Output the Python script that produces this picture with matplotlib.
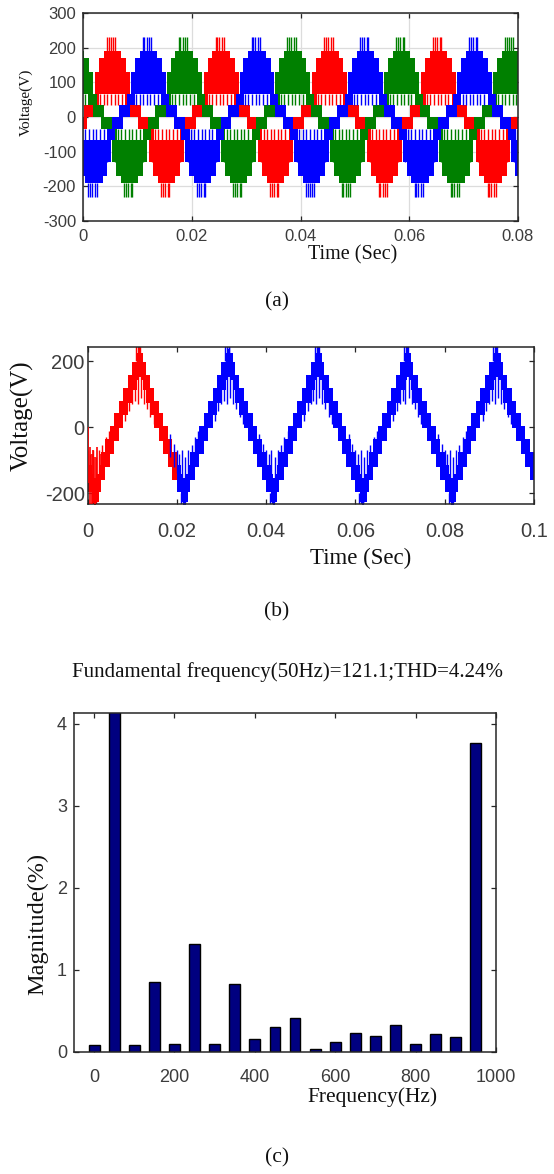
import matplotlib
matplotlib.use("Agg")
import matplotlib.pyplot as plt

plt.rcParams['axes.unicode_minus'] = False

# ---------------- data ----------------
# (a) three phase 7-level output, one positive half cycle described around its peak
#     tau in ms measured from the peak, bands are symmetric in tau: (|tau| min, |tau| max, v low, v high)
phase_colors_a = ['red', 'green', 'blue']
phase_peaks_ms = [5.4, 18.6, 12.0]
period_ms = 20.0
bands_a = [(3.3, 5.3, 0, 34),
           (2.4, 3.9, 34, 67),
           (0.0, 3.2, 67, 130),
           (0.0, 2.5, 130, 170),
           (0.0, 1.6, 170, 190)]
spikes_a = [(-1.0, 190, 232), (-0.7, 190, 232), (-0.3, 190, 232), (0.2, 190, 232), (0.5, 190, 232)]
dips_a = [(-2.2, 67, 34), (-1.6, 67, 34), (-0.9, 67, 34), (-0.2, 67, 34),
          (0.4, 67, 34), (1.1, 67, 34), (1.8, 67, 34), (-2.7, 130, 100), (2.5, 130, 100)]

# (b) single phase multilevel output, staircase level every 0.5 ms over one period
step_ms_b = 0.5
centres_b = [-156, -156, -185, -195, -185, -156, -117, -117, -78, -78, -39, -39, 0, 0,
             39, 39, 78, 78, 117, 117, 156, 156, 185, 195, 185, 156, 117, 117, 78, 78,
             39, 39, 0, 0, -39, -39, -78, -78, -117, -117]
band_half_b = 42
peak_b_ms = 11.5
spikes_b = [(-0.6, 200, 250), (-0.2, 200, 250), (0.3, 200, 250), (0.1, 180, 250)]
dips_b = [(-3.0, 90, 20), (-2.2, 120, 50), (-1.5, 140, 70), (-0.9, 150, 80), (-0.3, 160, 70),
          (0.4, 160, 90), (1.1, 150, 70), (1.8, 130, 55), (2.6, 105, 30), (3.3, 75, 10)]
red_start_b = [(0.2, 0, -170), (0.5, -60, -240), (0.9, -80, -240), (1.3, -70, -220),
               (1.7, -90, -240), (2.2, -60, -200), (2.7, -80, -170)]
red_periods_b = [0]
blue_periods_b = [1, 2, 3, 4]

# (c) harmonic spectrum
freqs_c = [0, 50, 100, 150, 200, 250, 300, 350, 400, 450, 500, 550, 600, 650, 700, 750, 800, 850, 900, 950]
mags_c = [0.08, 100, 0.08, 0.85, 0.10, 1.32, 0.10, 0.83, 0.16, 0.30, 0.41, 0.04, 0.12, 0.23, 0.20, 0.33,
          0.10, 0.22, 0.18, 3.76]
title_c = 'Fundamental frequency(50Hz)=121.1;THD=4.24%'

xticks_a = [0, 0.02, 0.04, 0.06, 0.08]
xlabels_a = ['0', '0.02', '0.04', '0.06', '0.08']
yticks_a = [-300, -200, -100, 0, 100, 200, 300]
xticks_b = [0, 0.02, 0.04, 0.06, 0.08, 0.1]
xlabels_b = ['0', '0.02', '0.04', '0.06', '0.08', '0.1']
yticks_b = [-200, 0, 200]
xticks_c = [0, 200, 400, 600, 800, 1000]
yticks_c = [0, 1, 2, 3, 4]

# ---------------- figure ----------------
W, H = 554, 1174
fig = plt.figure(figsize=(W / 100, H / 100), dpi=100)

SANS = 'Liberation Sans'
SERIF = 'Liberation Serif'
TICK_COLOR = '#3c3c3c'


def px_axes(left, top, right, bottom):
    return fig.add_axes([left / W, 1 - bottom / H, (right - left) / W, (bottom - top) / H])


def ftext(x, y, s, size, rot=0, family=SERIF):
    fig.text(x / W, 1 - y / H, s, ha='center', va='center', fontsize=size, rotation=rot,
             family=family, color='#111111')


def style(ax, size, pad_x, pad_y):
    for s in ax.spines.values():
        s.set_color('#262626')
        s.set_linewidth(1.1)
    ax.tick_params(direction='in', length=3.5, width=0.9, color='#262626',
                   top=True, right=True, labelsize=size, labelcolor=TICK_COLOR)
    ax.tick_params(axis='x', pad=pad_x)
    ax.tick_params(axis='y', pad=pad_y)
    for lab in ax.get_xticklabels() + ax.get_yticklabels():
        lab.set_family(SANS)


# ---- (a) ----
ax = px_axes(83, 13, 518, 221)
for color, peak in zip(phase_colors_a, phase_peaks_ms):
    for k in range(-2, 6):
        for sign, shift in [(1, 0.0), (-1, period_ms / 2)]:
            centre = peak + shift + k * period_ms
            for tmin, tmax, lo, hi in bands_a:
                if tmin == 0:
                    xr = [((centre - tmax) / 1000, 2 * tmax / 1000)]
                else:
                    xr = [((centre - tmax) / 1000, (tmax - tmin) / 1000),
                          ((centre + tmin) / 1000, (tmax - tmin) / 1000)]
                y0 = lo if sign > 0 else -hi
                ax.broken_barh(xr, (y0, hi - lo), facecolors=color, edgecolor='none', zorder=2)
            for tau, v0, v1 in spikes_a + dips_a:
                ax.vlines((centre + tau) / 1000, sign * v0, sign * v1, colors=color, lw=1.0, zorder=2)
ax.set_xlim(0, 0.08)
ax.set_ylim(-300, 300)
ax.set_xticks(xticks_a)
ax.set_xticklabels(xlabels_a)
ax.set_yticks(yticks_a)
ax.grid(True, color='#dcdcdc', lw=0.9, zorder=0)
ax.set_axisbelow(True)
style(ax, 12, 6, 5)
ftext(26, 102, 'Voltage(V)', 11, rot=90)
ftext(353, 255, 'Time (Sec)', 14.5)
ftext(277, 302, '(a)', 15.5)

# ---- (b) ----
ax = px_axes(87.5, 347, 534, 504)
n = len(centres_b)


def draw_period_b(p, color):
    t0 = p * period_ms
    edges = [(t0 + i * step_ms_b) / 1000 for i in range(n + 1)]
    lo = [c - band_half_b for c in centres_b] + [centres_b[-1] - band_half_b]
    hi = [c + band_half_b for c in centres_b] + [centres_b[-1] + band_half_b]
    ax.fill_between(edges, lo, hi, step='post', color=color, lw=0, zorder=2)
    for sign, pk in [(1, peak_b_ms), (-1, peak_b_ms - period_ms / 2)]:
        for tau, v0, v1 in spikes_b + dips_b:
            ax.vlines((t0 + pk + tau) / 1000, sign * v0, sign * v1, colors=color, lw=1.0, zorder=2)


for p in red_periods_b:
    draw_period_b(p, 'red')
for t, v0, v1 in red_start_b:
    ax.vlines(t / 1000, v0, v1, colors='red', lw=1.2, zorder=3)
for p in blue_periods_b:
    draw_period_b(p, 'blue')
ax.set_xlim(0, 0.1)
ax.set_ylim(-233, 244)
ax.set_xticks(xticks_b)
ax.set_xticklabels(xlabels_b)
ax.set_yticks(yticks_b)
style(ax, 14.5, 13, 2)
ftext(22, 416, 'Voltage(V)', 18, rot=90)
ftext(361, 558, 'Time (Sec)', 16.5)
ftext(277, 612, '(b)', 15.5)

# ---- (c) ----
ax = px_axes(74, 713, 496, 1052)
ax.bar(freqs_c, mags_c, width=27, color='#000080', edgecolor='black', linewidth=1.0, zorder=2)
ax.set_xlim(-50, 1000)
ax.set_ylim(0, 4.13)
ax.set_xticks(xticks_c)
ax.set_yticks(yticks_c)
style(ax, 13, 12, 5)
ftext(287, 672, title_c, 15)
ftext(38, 924, 'Magnitude(%)', 17.5, rot=90)
ftext(373, 1097, 'Frequency(Hz)', 15.5)
ftext(277, 1158, '(c)', 15.5)

fig.savefig('out.png', dpi=100)
